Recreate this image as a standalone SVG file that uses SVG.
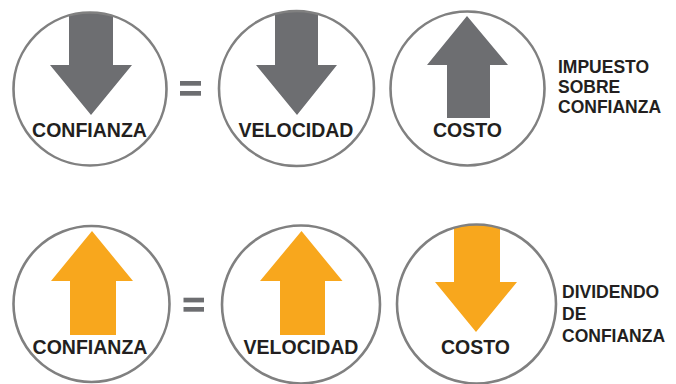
<svg xmlns="http://www.w3.org/2000/svg" width="676" height="384" viewBox="0 0 676 384">
<style>
.ring{fill:none;stroke:#808080;stroke-width:2.6}
.g{fill:#6d6e71}
.o{fill:#f8a71d}
.lbl{font-family:"Liberation Sans",Arial,sans-serif;font-weight:bold;font-size:19.5px;fill:#231f20;text-anchor:middle}
.side{font-family:"Liberation Sans",Arial,sans-serif;font-weight:bold;font-size:17.5px;fill:#231f20}
.eq{fill:#6d6e71}
</style>
<defs>
<clipPath id="c1"><circle cx="90" cy="89" r="76.5"/></clipPath>
<clipPath id="c2"><circle cx="296.5" cy="88.5" r="77.5"/></clipPath>
<clipPath id="c6"><circle cx="476.5" cy="304" r="79.5"/></clipPath>
</defs>
<rect width="676" height="384" fill="#ffffff"/>
<g id="confianza-top">
<path class="g" clip-path="url(#c1)" d="M69,0 H113 V65 H132 L91,115 L50,65 H69 Z"/>
<circle class="ring" cx="90" cy="89" r="76.5"/>
<text class="lbl" x="89.5" y="137">CONFIANZA</text>
</g>
<g id="eq-top">
<rect class="eq" x="180" y="81" width="21" height="4.7"/>
<rect class="eq" x="180" y="91" width="21" height="4.7"/>
</g>
<g id="velocidad-top">
<path class="g" clip-path="url(#c2)" d="M275,0 H318 V65 H337 L297,115 L256,65 H275 Z"/>
<circle class="ring" cx="296.5" cy="88.5" r="77.5"/>
<text class="lbl" x="296" y="137">VELOCIDAD</text>
</g>
<g id="costo-top">
<path class="g" d="M467,16 L508,65 H490 V118 H447 V65 H427 Z"/>
<circle class="ring" cx="467.5" cy="88.5" r="77"/>
<text class="lbl" x="467.5" y="137">COSTO</text>
</g>
<g id="impuesto">
<text class="side" x="558" y="73">IMPUESTO</text>
<text class="side" x="558" y="93">SOBRE</text>
<text class="side" x="558" y="113">CONFIANZA</text>
</g>
<g id="confianza-bottom">
<path class="o" d="M92,231 L133,281 H116 V335 H70 V281 H51 Z"/>
<circle class="ring" cx="91.5" cy="304" r="78"/>
<text class="lbl" x="90" y="354">CONFIANZA</text>
</g>
<g id="eq-bottom">
<rect class="eq" x="183.5" y="297.7" width="20.5" height="4.7"/>
<rect class="eq" x="183.5" y="307" width="20.5" height="4.7"/>
</g>
<g id="velocidad-bottom">
<path class="o" d="M301.5,231 L342.5,281 H325 V335 H280 V281 H260 Z"/>
<circle class="ring" cx="301" cy="304.5" r="79"/>
<text class="lbl" x="301" y="354">VELOCIDAD</text>
</g>
<g id="costo-bottom">
<path class="o" clip-path="url(#c6)" d="M454,215 H500 V282 H517 L476,332 L435,282 H454 Z"/>
<circle class="ring" cx="476.5" cy="304" r="79.5"/>
<text class="lbl" x="475.5" y="354">COSTO</text>
</g>
<g id="dividendo">
<text class="side" x="562" y="298">DIVIDENDO</text>
<text class="side" x="562" y="320">DE</text>
<text class="side" x="562" y="342">CONFIANZA</text>
</g>
<g id="connectors"></g>
</svg>
